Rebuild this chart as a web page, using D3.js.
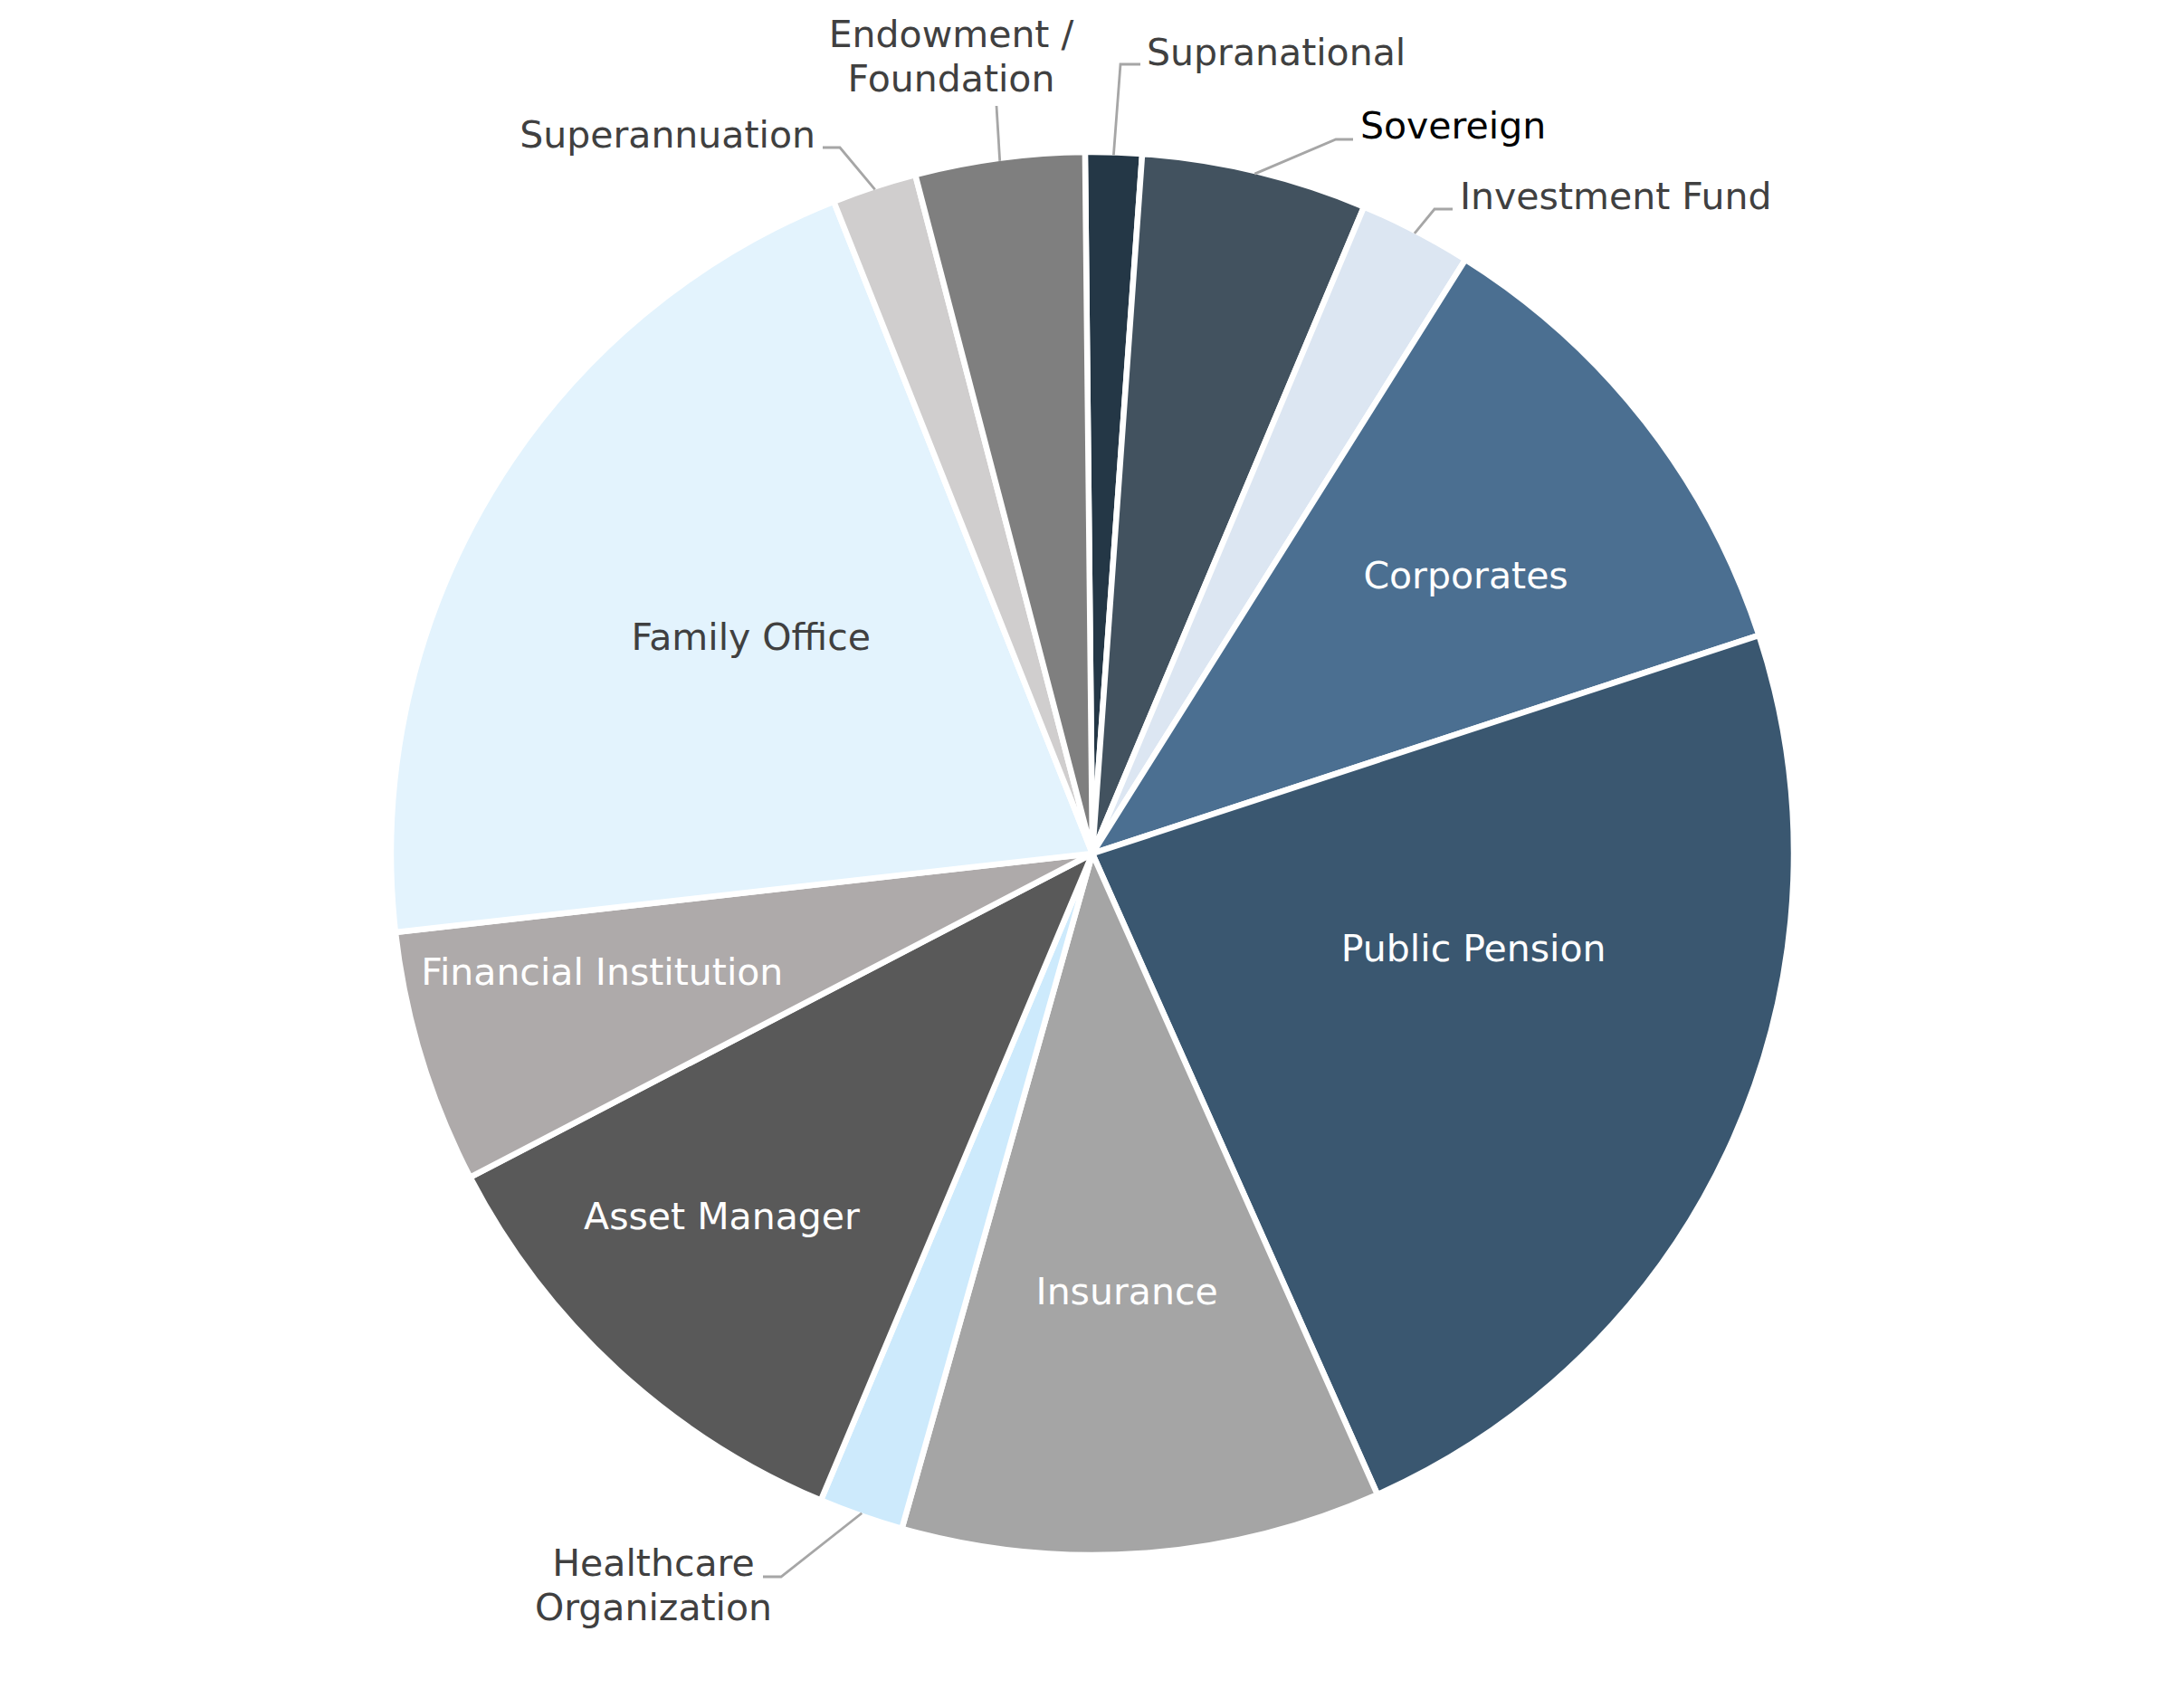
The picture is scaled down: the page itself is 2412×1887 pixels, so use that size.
<!DOCTYPE html>
<html>
<head>
<meta charset="utf-8">
<script src="https://cdn.jsdelivr.net/npm/d3@7"></script>
<style>
  html, body { margin: 0; padding: 0; background: #ffffff; }
  svg { display: block; }
  text { font-family: "DejaVu Sans", sans-serif; }
</style>
</head>
<body>
<svg id="chart" width="2412" height="1887"></svg>
<script>
// ---- Data ----
const categories = [
  "Supranational", "Sovereign", "Investment Fund", "Corporates", "Public Pension",
  "Insurance", "Healthcare Organization", "Asset Manager", "Financial Institution",
  "Family Office", "Superannuation", "Endowment / Foundation"
];
const values = [2, 8, 4, 17, 36, 17, 3, 17, 9, 32, 3, 6];
const sliceColors = [
  "#243746", "#42525f", "#dce6f2", "#4b6f91", "#3a5770",
  "#a5a5a5", "#cdeafc", "#595959", "#aeaaaa",
  "#e3f3fd", "#d0cece", "#7f7f7f"
];

// ---- Layout (kept separate from data) ----
const W = 2412, H = 1887;
const cx = 1207, cy = 943;
const R = 775;
const startDeg = -0.6;
const fontSize = 41;

// inside labels: radius fraction and angular adjustment (deg) from slice bisector
const insideLabels = {
  "Corporates":            { f: 0.664, dA: 1.3,  color: "#ffffff" },
  "Public Pension":        { f: 0.560, dA: -10.0, color: "#ffffff" },
  "Insurance":             { f: 0.626, dA: -0.4, color: "#ffffff" },
  "Asset Manager":         { f: 0.739, dA: 3.0,  color: "#ffffff" },
  "Financial Institution": { f: 0.719, dA: 3.4,  color: "#ffffff" },
  "Family Office":         { f: 0.577, dA: 1.5,  color: "#404040" }
};
// outside labels: leader elbow points and text anchor
const outsideLabels = {
  "Supranational": { pts: [[1238, 71], [1260, 71]], tx: 1267, ty: 72, anchor: "start", lines: ["Supranational"], color: "#404040" },
  "Sovereign": { pts: [[1476, 154], [1495, 154]], tx: 1503, ty: 153, anchor: "start", lines: ["Sovereign"], color: "#000000" },
  "Investment Fund": { pts: [[1585, 231], [1605, 231]], tx: 1613, ty: 231, anchor: "start", lines: ["Investment Fund"], color: "#404040" },
  "Superannuation": { pts: [[928, 163], [909, 163]], tx: 901, ty: 163, anchor: "end", lines: ["Superannuation"], color: "#404040" },
  "Endowment / Foundation": { pts: [[1101, 117]], tx: 1051, ty: 52, anchor: "middle", lines: ["Endowment /", "Foundation"], color: "#404040" },
  "Healthcare Organization": { pts: [[863, 1742], [843, 1742]], tx: 722, ty: 1741, anchor: "middle", lines: ["Healthcare", "Organization"], color: "#404040" }
};
const lineHeight = 49;

// ---- Drawing ----
const svg = d3.select("#chart");
const g = svg.append("g").attr("transform", `translate(${cx},${cy})`);

const toRad = d => d * Math.PI / 180;
const pie = d3.pie().sort(null).value(d => d)
  .startAngle(toRad(startDeg)).endAngle(toRad(startDeg) + 2 * Math.PI);
const arcs = pie(values).map((a, i) => Object.assign(a, { name: categories[i], color: sliceColors[i] }));

const arc = d3.arc().innerRadius(0).outerRadius(R);

g.selectAll("path.slice").data(arcs).enter().append("path")
  .attr("class", "slice")
  .attr("d", arc)
  .attr("fill", d => d.color)
  .attr("stroke", "#ffffff")
  .attr("stroke-width", 6.5)
  .attr("stroke-linejoin", "miter");

// inside labels
arcs.filter(d => insideLabels[d.name]).forEach(d => {
  const L = insideLabels[d.name];
  const a = (d.startAngle + d.endAngle) / 2 + toRad(L.dA);
  const r = R * L.f;
  g.append("text")
    .attr("x", r * Math.sin(a))
    .attr("y", -r * Math.cos(a))
    .attr("dy", "0.36em")
    .attr("text-anchor", "middle")
    .attr("font-size", fontSize)
    .attr("fill", L.color)
    .text(d.name);
});

// outside labels with leader lines
const line = d3.line();
arcs.filter(d => outsideLabels[d.name]).forEach(d => {
  const L = outsideLabels[d.name];
  const a = (d.startAngle + d.endAngle) / 2;
  const edge = [cx + (R - 3) * Math.sin(a), cy - (R - 3) * Math.cos(a)];
  svg.append("path")
    .attr("d", line([edge].concat(L.pts)))
    .attr("fill", "none")
    .attr("stroke", "#a6a6a6")
    .attr("stroke-width", 2.8);
  const t = svg.append("text")
    .attr("text-anchor", L.anchor)
    .attr("font-size", fontSize)
    .attr("fill", L.color);
  L.lines.forEach((s, k) => {
    t.append("tspan").attr("x", L.tx).attr("y", L.ty + k * lineHeight).text(s);
  });
});
</script>
</body>
</html>
